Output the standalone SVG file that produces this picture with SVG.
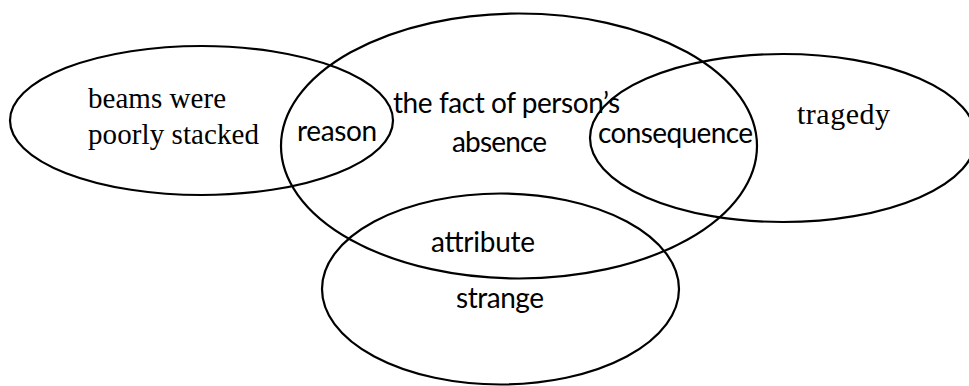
<svg xmlns="http://www.w3.org/2000/svg" width="969" height="386" viewBox="0 0 969 386">
<style>
.sh{fill:none;stroke:#000;stroke-width:2.2}
.serif{font-family:"Liberation Serif","Times New Roman",serif;fill:#000}
.sans{font-family:Lato,"Open Sans","Liberation Sans",sans-serif;fill:#000}
</style>
<rect width="969" height="386" fill="#fff"/>
<g id="cause">
<ellipse class="sh" cx="201.5" cy="120.5" rx="191.5" ry="74.5"/>
<text class="serif" font-size="29" x="88" y="108" textLength="138">beams were</text>
<text class="serif" font-size="29" x="88" y="144" textLength="171">poorly stacked</text>
</g>
<g id="fact">
<ellipse class="sh" cx="519" cy="146" rx="238" ry="132.5"/>
<text class="sans" font-size="28" x="393" y="113" textLength="227">the fact of person’s</text>
<text class="sans" font-size="28" x="452" y="152" textLength="95">absence</text>
</g>
<g id="effect">
<ellipse class="sh" cx="783" cy="138" rx="193" ry="84"/>
<text class="serif" font-size="30" x="797" y="124" textLength="93">tragedy</text>
</g>
<g id="quality">
<ellipse class="sh" cx="500.5" cy="289" rx="178.5" ry="95.5"/>
<text class="sans" font-size="28" x="456" y="308" textLength="88">strange</text>
</g>
<g id="relations">
<text class="sans" font-size="28" x="297" y="141" textLength="80">reason</text>
<text class="sans" font-size="28" x="598" y="143" textLength="155">consequence</text>
<text class="sans" font-size="28" x="431" y="252" textLength="104">attribute</text>
</g>
</svg>
